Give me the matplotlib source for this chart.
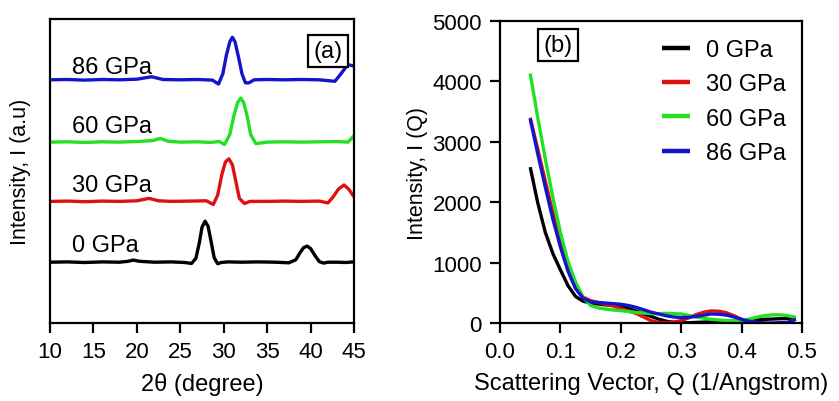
import matplotlib
matplotlib.use("Agg")
import matplotlib.pyplot as plt
import numpy as np

plt.rcParams['font.family'] = ['Liberation Sans', 'DejaVu Sans']

# ---------------- Panel (a) data: XRD patterns (offset) ----------------
x0 = [10, 12, 14, 16, 18, 19, 19.6, 20.3, 22, 24, 25.5, 26.3, 26.8, 27.2, 27.5, 27.85,
      28.2, 28.5, 28.9, 29.3, 29.7, 30.5, 32, 34, 36, 37.5, 38.3, 38.8, 39.2, 39.6,
      40.0, 40.5, 41.0, 41.5, 42, 43, 44, 45]
y0 = [0.200, 0.201, 0.199, 0.201, 0.200, 0.203, 0.207, 0.203, 0.200, 0.201, 0.199, 0.196,
      0.213, 0.265, 0.315, 0.335, 0.318, 0.275, 0.215, 0.195, 0.199, 0.201, 0.200, 0.201,
      0.200, 0.198, 0.208, 0.232, 0.248, 0.253, 0.245, 0.222, 0.202, 0.197, 0.200, 0.200,
      0.199, 0.201]

x30 = [10, 12, 14, 16, 18, 20, 21.4, 22.5, 24, 26, 28, 28.8, 29.3, 29.8, 30.2, 30.6,
       31.0, 31.4, 31.8, 32.4, 33, 35, 37, 39, 41, 42.0, 42.6, 43.2, 43.85, 44.4, 45]
y30 = [0.400, 0.401, 0.399, 0.401, 0.400, 0.402, 0.410, 0.402, 0.400, 0.401, 0.402, 0.390,
       0.420, 0.490, 0.530, 0.540, 0.520, 0.465, 0.410, 0.393, 0.400, 0.400, 0.401, 0.400,
       0.401, 0.395, 0.415, 0.440, 0.454, 0.440, 0.415]

x60 = [10, 12, 14, 16, 18, 20, 21.8, 22.7, 23.6, 25, 27, 28.5, 29.5, 30.1, 30.7, 31.2,
       31.6, 31.95, 32.3, 32.7, 33.1, 33.7, 35, 37, 39, 41, 43, 44.3, 45]
y60 = [0.595, 0.596, 0.594, 0.596, 0.595, 0.597, 0.600, 0.607, 0.598, 0.595, 0.596, 0.594,
       0.597, 0.587, 0.620, 0.685, 0.725, 0.740, 0.725, 0.680, 0.620, 0.590, 0.595, 0.596,
       0.595, 0.596, 0.597, 0.595, 0.616]

x86 = [10, 12, 14, 16, 18, 20, 21.7, 23, 25, 27, 28.7, 29.4, 29.9, 30.3, 30.7, 31.0,
       31.3, 31.7, 32.1, 32.5, 32.9, 33.5, 35, 37, 39, 41, 42.8, 43.5, 44.3, 45]
y86 = [0.800, 0.801, 0.799, 0.801, 0.800, 0.802, 0.810, 0.801, 0.800, 0.801, 0.799, 0.786,
       0.820, 0.880, 0.925, 0.940, 0.925, 0.875, 0.820, 0.790, 0.790, 0.800, 0.801, 0.800,
       0.801, 0.800, 0.795, 0.820, 0.850, 0.845]

labels_a = ['0 GPa', '30 GPa', '60 GPa', '86 GPa']
label_y_a = [0.257, 0.454, 0.648, 0.842]

# ---------------- Panel (b) data: SAXS I(Q) ----------------
q = [0.05, 0.0625, 0.075, 0.0875, 0.1, 0.1125, 0.125, 0.1375, 0.15, 0.1625, 0.175,
     0.1875, 0.2, 0.2125, 0.225, 0.2375, 0.25, 0.2625, 0.275, 0.2875, 0.3, 0.3125, 0.325,
     0.3375, 0.35, 0.3625, 0.375, 0.3875, 0.4, 0.4125, 0.425, 0.4375, 0.45, 0.4625,
     0.475, 0.49]
i0 = [2580, 1990, 1500, 1150, 880, 620, 440, 360, 330, 315, 300, 290, 270, 240, 200,
      155, 110, 65, 30, 12, 5, 5, 10, 15, 20, 25, 30, 35, 40, 48, 55, 60, 65, 70, 75, 85]
i30 = [3400, 2880, 2350, 1830, 1350, 920, 610, 430, 370, 340, 310, 280, 240, 200, 160,
       100, 40, 10, 5, 15, 40, 85, 140, 180, 200, 195, 170, 120, 60, 25, 5, 0, None,
       None, None, None]
i60 = [4130, 3400, 2720, 2080, 1500, 1020, 680, 430, 290, 250, 230, 215, 205, 190, 175,
       165, 155, 155, 160, 155, 150, 125, 100, 80, 60, 50, 40, 40, 45, 65, 95, 120, 135,
       135, 125, 90]
i86 = [3380, 2800, 2250, 1720, 1260, 860, 570, 410, 350, 340, 330, 320, 310, 290, 260,
       220, 180, 150, 120, 100, 90, 95, 110, 130, 150, 145, 130, 100, 60, 30, 10, 0, 0,
       5, 10, 60]
labels_b = ['0 GPa', '30 GPa', '60 GPa', '86 GPa']

colors = ['#000000', '#e01010', '#22e022', '#1414cc']

fig = plt.figure(figsize=(8.39, 4.02), dpi=100)
ax1 = fig.add_axes([50/839, 1-324/402, 304/839, 304/402])
ax2 = fig.add_axes([500/839, 1-324/402, 302/839, 302/402])

FS_TICK = 16
FS_X = 17
FS_Y = 15.5
FS_TXT = 17
lw = 2.4

for xs, ys, c in zip([x0, x30, x60, x86], [y0, y30, y60, y86], colors):
    ax1.plot(xs, ys, color=c, lw=lw, solid_joinstyle='round')
for lab, ly in zip(labels_a, label_y_a):
    ax1.text(12.5, ly, lab, fontsize=FS_TXT, va='center', ha='left')
ax1.set_xlim(10, 45)
ax1.set_ylim(0, 1)
ax1.set_xticks([10, 15, 20, 25, 30, 35, 40, 45])
ax1.set_yticks([])
ax1.set_xlabel('2θ (degree)', fontsize=FS_X, labelpad=7)
ax1.set_ylabel('Intensity, I (a.u)', fontsize=FS_Y, labelpad=14)
ax1.text(0.915, 0.895, '(a)', transform=ax1.transAxes, fontsize=FS_TXT, ha='center',
         va='center', bbox=dict(boxstyle='square,pad=0.22', fc='white', ec='black', lw=1.6))

for ys, c, lab in zip([i0, i30, i60, i86], colors, labels_b):
    arr = np.array([np.nan if v is None else v for v in ys], dtype=float)
    ax2.plot(q, arr, color=c, lw=lw, label=lab, solid_joinstyle='round',
             solid_capstyle='butt')
ax2.set_xlim(0, 0.5)
ax2.set_ylim(0, 5000)
ax2.set_xticks([0.0, 0.1, 0.2, 0.3, 0.4, 0.5])
ax2.set_xticklabels(['0.0', '0.1', '0.2', '0.3', '0.4', '0.5'])
ax2.set_yticks([0, 1000, 2000, 3000, 4000, 5000])
ax2.set_xlabel('Scattering Vector, Q (1/Angstrom)', fontsize=FS_X, labelpad=7)
ax2.set_ylabel('Intensity, I (Q)', fontsize=FS_Y, labelpad=3)
ax2.text(0.192, 0.92, '(b)', transform=ax2.transAxes, fontsize=FS_TXT, ha='center',
         va='center', bbox=dict(boxstyle='square,pad=0.22', fc='white', ec='black', lw=1.6))
leg = ax2.legend(loc='upper left', bbox_to_anchor=(0.536, 0.94), frameon=False,
                 fontsize=FS_TXT, handlelength=1.2, handletextpad=0.65, labelspacing=0.52,
                 borderpad=0, borderaxespad=0)
for h in leg.get_lines():
    h.set_linewidth(3.2)

for ax in (ax1, ax2):
    for s in ax.spines.values():
        s.set_linewidth(1.6)
    ax.tick_params(direction='out', length=7, width=1.6, labelsize=FS_TICK, pad=6)

fig.savefig('out.png', dpi=100)
